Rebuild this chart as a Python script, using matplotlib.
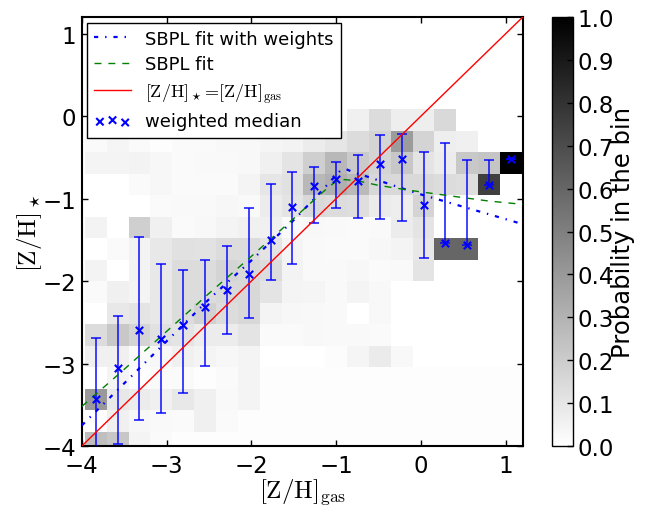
import numpy as np
import matplotlib
matplotlib.use('Agg')
import matplotlib.pyplot as plt
from matplotlib.lines import Line2D

plt.rcParams['mathtext.fontset'] = 'cm'
plt.rcParams['font.family'] = ['DejaVu Sans']
plt.rcParams['lines.scale_dashes'] = False

# ---------------- data ----------------
x_edges = [-3.964, -3.706, -3.449, -3.191, -2.933, -2.676, -2.418, -2.160, -1.902, -1.645,
           -1.387, -1.129, -0.872, -0.614, -0.356, -0.099, 0.159, 0.417, 0.675, 0.932, 1.190]
y_edges = [-4.090, -3.829, -3.568, -3.307, -3.046, -2.785, -2.524, -2.263, -2.002, -1.741,
           -1.480, -1.219, -0.958, -0.697, -0.436, -0.175, 0.086, 0.347, 0.608, 0.869, 1.130]

# probability per bin, rows listed from top (highest [Z/H]_star) to bottom
prob_rows_top_down = [
    [0]*20,
    [0]*20,
    [0]*20,
    [0]*20,
    [0, 0, 0, 0, 0, 0, 0, 0, 0, 0, 0, 0, 0.06, 0.14, 0.07, 0.07, 0.15, 0, 0, 0],
    [0.02, 0.04, 0.02, 0.01, 0.02, 0.02, 0.03, 0.03, 0.04, 0.05, 0.075, 0.10, 0.137, 0.17, 0.39, 0.17, 0.07, 0.06, 0, 0],
    [0.043, 0.043, 0.05, 0.035, 0.02, 0.027, 0.027, 0.03, 0.06, 0.106, 0.19, 0.28, 0.21, 0.17, 0.22, 0.106, 0.075, 0.216, 0.23, 1.0],
    [0, 0, 0.02, 0.035, 0.02, 0.02, 0.02, 0.043, 0.10, 0.12, 0.28, 0.31, 0.27, 0.153, 0.15, 0.15, 0.137, 0.13, 0.75, 0],
    [0, 0, 0, 0.02, 0.027, 0.027, 0.035, 0.027, 0.075, 0.106, 0.15, 0.14, 0.13, 0.08, 0.07, 0.17, 0, 0, 0, 0],
    [0.05, 0, 0.19, 0.06, 0.02, 0.03, 0.043, 0.055, 0.06, 0.02, 0.03, 0.027, 0.02, 0.027, 0.075, 0.106, 0, 0, 0, 0],
    [0, 0.02, 0.05, 0.09, 0.12, 0.115, 0.14, 0.14, 0.106, 0.043, 0.027, 0.02, 0.02, 0.035, 0.043, 0.09, 0.6, 0.6, 0, 0],
    [0.05, 0, 0.05, 0.09, 0.137, 0.137, 0.17, 0.153, 0.137, 0.05, 0.027, 0.027, 0.035, 0.02, 0.027, 0.106, 0, 0, 0, 0],
    [0.02, 0.06, 0.043, 0.09, 0.137, 0.137, 0.15, 0.153, 0.106, 0.043, 0.04, 0.027, 0.043, 0.03, 0, 0, 0, 0, 0, 0],
    [0, 0.09, 0.106, 0.09, 0.137, 0.18, 0.137, 0.153, 0.043, 0.035, 0.03, 0.027, 0, 0.03, 0, 0, 0, 0, 0, 0],
    [0.137, 0.216, 0.17, 0.12, 0.106, 0.075, 0.075, 0.106, 0.02, 0.02, 0.03, 0.027, 0.025, 0.02, 0, 0, 0, 0, 0, 0],
    [0.06, 0.06, 0.02, 0.035, 0.06, 0.043, 0.035, 0.043, 0, 0, 0, 0.012, 0.04, 0.08, 0.03, 0, 0, 0, 0, 0],
    [0, 0.043, 0.01, 0.02, 0.02, 0.01, 0.02, 0.043, 0.01, 0.01, 0.01, 0.01, 0.01, 0.01, 0.01, 0.01, 0.01, 0.01, 0.01, 0.01],
    [0.40, 0.09, 0.075, 0.06, 0.09, 0.06, 0.027, 0.043, 0.01, 0.01, 0.01, 0.01, 0.01, 0.01, 0.01, 0.01, 0.01, 0.01, 0.01, 0.01],
    [0, 0.06, 0.035, 0.027, 0.02, 0.06, 0.02, 0.01, 0.01, 0.01, 0.01, 0.01, 0.01, 0.01, 0.01, 0.01, 0.01, 0.01, 0.01, 0.01],
    [0.25, 0.22, 0.043, 0.02, 0.01, 0.01, 0.01, 0.01, 0.01, 0.01, 0.01, 0.01, 0.01, 0.01, 0.01, 0.01, 0.01, 0.01, 0.01, 0.01],
]

# weighted median per Z_gas bin
med_x = [-3.835, -3.578, -3.320, -3.062, -2.805, -2.547, -2.289, -2.031, -1.774, -1.516,
         -1.258, -1.001, -0.743, -0.485, -0.228, 0.030, 0.288, 0.546, 0.803, 1.061]
med_y = [-3.43, -3.05, -2.59, -2.70, -2.53, -2.32, -2.11, -1.91, -1.50, -1.10,
         -0.845, -0.76, -0.79, -0.58, -0.52, -1.075, -1.54, -1.56, -0.83, -0.525]
err_hi = [-2.69, -2.42, -1.47, -1.79, -1.86, -1.75, -1.57, -1.115, -0.82, -0.675,
          -0.614, -0.56, -0.47, -0.225, -0.215, -0.44, -0.33, -0.53, -0.53, -0.525]
err_lo = [-4.06, -3.97, -3.68, -3.60, -3.36, -3.03, -2.64, -2.45, -1.99, -1.79,
          -1.30, -1.115, -1.236, -1.245, -1.27, -1.72, -1.54, -1.56, -0.83, -0.525]

# fitted curves
sbplw_x = [-4.0, -3.5, -3.0, -2.5, -2.0, -1.5, -1.2, -1.05, -0.95, -0.88, -0.8, -0.6, -0.3, 0.0, 0.4, 0.8, 1.2]
sbplw_y = [-3.75, -3.24, -2.73, -2.22, -1.75, -1.26, -0.94, -0.77, -0.66, -0.645, -0.68, -0.745, -0.85, -0.95, -1.07, -1.19, -1.31]
sbpl_x = [-4.0, -3.5, -3.0, -2.5, -2.0, -1.5, -1.2, -1.1, -1.0, -0.9, -0.75, -0.5, -0.1, 0.4, 0.8, 1.2]
sbpl_y = [-3.52, -3.07, -2.61, -2.15, -1.70, -1.24, -0.96, -0.87, -0.79, -0.77, -0.785, -0.84, -0.905, -0.975, -1.03, -1.07]
one_x = [-4.0, 1.2]
one_y = [-4.0, 1.2]

ticks = [-4, -3, -2, -1, 0, 1]
cbar_ticks = [0.0, 0.1, 0.2, 0.3, 0.4, 0.5, 0.6, 0.7, 0.8, 0.9, 1.0]

# ---------------- plot ----------------
fig = plt.figure(figsize=(6.6, 5.1), dpi=100)
ax = fig.add_axes([0.124, 0.1235, 0.668, 0.841])
cax = fig.add_axes([0.836, 0.1235, 0.032, 0.841])

H = np.array(prob_rows_top_down[::-1])
mesh = ax.pcolormesh(x_edges, y_edges, H, cmap='gray_r', vmin=0, vmax=1, shading='flat')

ax.errorbar(med_x, med_y,
            yerr=[np.array(med_y) - np.array(err_lo), np.array(err_hi) - np.array(med_y)],
            fmt='none', ecolor='b', elinewidth=1.3, capsize=3.5, capthick=1.3, alpha=0.8, zorder=3)
ax.plot(sbplw_x, sbplw_y, color='b', lw=1.6, ls=(0, (3, 5, 1, 5)), zorder=4)
ax.plot(sbpl_x, sbpl_y, color='g', lw=1.0, ls=(0, (5, 5)), zorder=4)
ax.plot(one_x, one_y, color='r', lw=1.0, zorder=4)
sc = ax.scatter(med_x, med_y, marker='x', c='b', s=28, linewidths=1.5, zorder=5)

ax.set_xlim(-4, 1.2)
ax.set_ylim(-4, 1.2)
ax.set_xticks(ticks)
ax.set_yticks(ticks)
ax.tick_params(direction='in', top=True, right=True, length=4, width=1, labelsize=16.5, pad=6)
ax.tick_params(axis='y', pad=4)
for s in ax.spines.values():
    s.set_linewidth(1.5)
ax.set_xlabel(r'$[\mathrm{Z/H}]_{\mathrm{gas}}$', fontsize=18, labelpad=-1)
ax.set_ylabel(r'$[\mathrm{Z/H}]_\star$', fontsize=18, labelpad=-1)

handles = [
    Line2D([], [], color='b', lw=1.6, ls=(0, (3, 5, 1, 5))),
    Line2D([], [], color='g', lw=1.0, ls=(0, (5, 5))),
    Line2D([], [], color='r', lw=1.0),
    sc,
]
labels = ['SBPL fit with weights', 'SBPL fit',
          r'$[\mathrm{Z/H}]_\star\!=\![\mathrm{Z/H}]_{\mathrm{gas}}$', 'weighted median']
leg = ax.legend(handles, labels, loc='upper left', fontsize=13, fancybox=False,
                framealpha=1, edgecolor='k', borderaxespad=0.3, scatterpoints=3,
                scatteryoffsets=[0.375, 0.5, 0.3125], handlelength=2.0, labelspacing=0.42)
leg.get_frame().set_linewidth(1.0)
leg.set_zorder(10)

cb = fig.colorbar(mesh, cax=cax, ticks=cbar_ticks)
cb.ax.tick_params(labelsize=16.5, direction='in', length=4, width=1)
cb.outline.set_linewidth(1.0)
cb.set_label('Probability in the bin', fontsize=17.5, labelpad=-2)

fig.savefig('out.png', dpi=100, facecolor='white')
